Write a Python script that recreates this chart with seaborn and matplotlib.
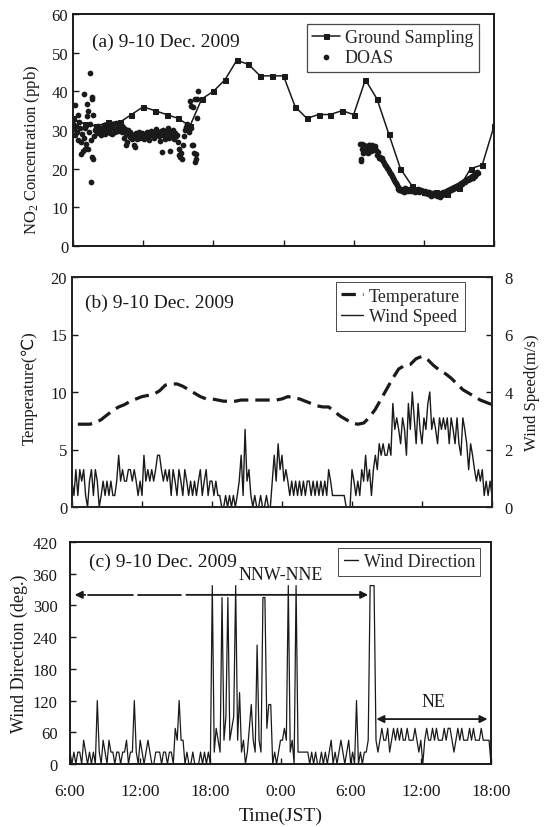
import numpy as np
import pandas as pd
import matplotlib
matplotlib.use("Agg")
import matplotlib.pyplot as plt
from matplotlib.lines import Line2D
import seaborn as sns

# ---------------- Data (hours since 06:00 JST, 9 Dec 2009) ----------------
gs_hours = list(range(0, 37))
gs_no2 = [33, 31.5, 31, 32, 32, 34, 36, 35, 34, 33, 31, 38, 40, 43, 48, 47, 44, 44,
          44, 36, 33, 34, 34, 35, 34, 43, 38, 29, 20, 15.5, 14, 14, 13.5, 15, 20, 21, 31]

# DOAS, 5-min values, segment 1 starts 06:00 day 1
doas1_start = 0.0
doas1_no2 = [
    31.5, 30.2, 28.6, 31.0, 29.4, 27.5, 32.0, 30.5, 26.8, 29.0, 24.5, 28.0,
    30.5, 26.5, 33.5, 25.0, 29.5, 31.5, 27.5, 38.5, 23.0, 34.0, 28.5, 30.0,
    30.5, 29.2, 31.0, 29.8, 30.2, 28.8, 30.6, 29.5, 31.2, 29.0, 30.4, 29.6,
    30.0, 31.0, 29.3, 30.5, 29.0, 31.5, 30.2, 29.4, 31.8, 30.6, 29.8, 31.2,
    30.4, 31.6, 29.6, 30.8, 28.0, 30.2, 29.0, 27.0, 30.0, 28.6, 29.4, 28.2,
    29.0, 27.8, 28.6, 26.2, 28.4, 29.2, 27.6, 28.8, 29.6, 28.0, 28.4, 29.2,
    28.2, 27.6, 29.0, 28.4, 29.6, 28.2, 27.4, 28.8, 29.8, 28.6, 29.4, 28.0,
    29.2, 30.2, 28.8, 29.6, 28.4, 27.2, 29.8, 28.6, 30.0, 29.2, 27.8, 29.6,
    28.8, 30.4, 28.0, 29.4, 24.5, 29.0, 28.4, 30.0, 27.6, 29.2, 28.4, 28.8,
    27.0, 25.0, 23.0, 24.0, 22.5, 26.0, 28.5, 30.0, 30.8, 31.5, 30.2, 29.5,
    31.0, 30.5, 26.0, 36.0, 24.0, 38.0, 22.5, 33.0]
# DOAS segment 2 starts 06:35 day 2
doas2_start = 24 + 7 / 12
doas2_no2 = [
    26.5, 22.5, 25.0, 24.0, 26.0,
    25.0, 24.2, 25.5, 24.0, 26.0, 25.2, 24.5, 26.2, 25.5, 24.8, 25.8, 24.8,
    23.5, 24.2, 22.8, 23.0, 22.4, 22.8, 22.0, 21.5, 21.0, 20.6, 20.2, 19.8,
    19.5, 19.0, 18.6, 18.0, 17.6, 17.0, 16.6, 16.2, 15.8, 15.2, 14.8, 14.6,
    14.4, 14.8, 14.2, 14.6, 14.0, 14.9, 14.3, 14.7, 14.1, 14.5, 14.8, 14.2,
    14.6, 14.2, 14.8, 14.0, 14.5, 14.3, 14.7, 13.9, 14.4, 14.6, 14.1, 14.3,
    13.8, 14.2, 13.6, 14.0, 13.4, 13.9, 13.5, 13.0, 13.7, 13.3, 13.8, 13.4,
    13.6, 13.2, 13.0, 13.8, 13.4, 12.8, 13.6, 13.2, 13.9, 13.5, 13.8, 14.1,
    14.0, 14.4, 14.2, 14.7, 14.5, 15.0, 14.8, 15.2, 15.0, 15.5, 15.3, 15.8,
    15.6, 16.0, 16.2, 16.0, 16.5, 16.8, 16.6, 17.0, 17.2, 17.0, 17.6, 17.4,
    17.8, 18.2, 17.6, 18.4, 18.0, 18.8, 18.5, 19.2, 19.0]
# scattered DOAS outliers
doas_extra_h = [0.15, 0.4, 0.69, 0.9, 1.03, 1.2, 1.3, 1.45, 1.55, 1.6, 1.74, 4.5, 5.3, 7.6,
                9.05, 10.0, 10.1, 10.3, 10.45, 10.5, 10.6, 10.7, 24.62, 24.7, 25.3]
doas_extra_no2 = [36.5, 34.0, 23.8, 39.3, 25.0, 36.7, 35.0, 44.7, 16.6, 38.0, 22.5, 26.0, 25.5,
                  24.2, 23.5, 37.5, 36.3, 26.0, 21.6, 23.8, 38.0, 40.0, 22.0, 26.5, 26.0]

# (b) temperature every 30 min from 06:30
temp_start = 0.5
temperature = [7.2, 7.2, 7.2, 7.3, 7.6, 8.0, 8.4, 8.7, 8.9, 9.2, 9.4, 9.6, 9.7, 9.8, 10.1, 10.6,
               10.7, 10.7, 10.5, 10.2, 9.9, 9.6, 9.4, 9.4, 9.3, 9.2, 9.2, 9.2, 9.3, 9.3, 9.3,
               9.3, 9.3, 9.3, 9.3, 9.4, 9.6, 9.5, 9.4, 9.2, 9.0, 8.8, 8.7, 8.7, 8.3, 7.9, 7.6,
               7.3, 7.2, 7.3, 7.8, 8.5, 9.4, 10.3, 11.2, 12.0, 12.3, 12.4, 12.9, 13.1, 12.8,
               12.3, 11.9, 11.6, 11.2, 10.7, 10.2, 9.9, 9.6, 9.3, 9.1, 8.9]

# wind speed (m/s) every 10 min from 06:00
wind_speed = [
    0.9, 0.4, 1.3, 0.4, 1.3, 0.9, 1.3, 0.4, 0.0, 0.9, 1.3, 0.4,
    1.3, 0.9, 0.0, 0.4, 0.9, 0.4, 0.9, 0.4, 0.9, 0.4, 0.4, 0.9,
    1.8, 0.9, 1.3, 0.9, 0.9, 1.3, 1.3, 0.9, 1.3, 0.9, 0.4, 0.9,
    0.4, 1.8, 0.9, 1.3, 0.9, 1.3, 0.9, 1.3, 1.8, 1.8, 1.3, 0.9,
    1.3, 0.9, 1.3, 0.4, 1.3, 0.9, 0.4, 1.3, 0.9, 0.4, 1.3, 0.9,
    0.4, 0.9, 0.4, 0.9, 0.4, 0.9, 1.3, 0.4, 0.9, 1.3, 0.4, 0.9,
    0.9, 0.4, 0.9, 0.4, 0.4, 0.0, 0.0, 0.4, 0.0, 0.4, 0.0, 0.4,
    0.0, 0.4, 0.9, 1.8, 0.4, 2.7, 0.9, 1.3, 0.4, 0.0, 0.4, 0.0,
    0.0, 0.4, 0.0, 0.0, 0.4, 0.0, 0.0, 0.9, 1.8, 0.9, 2.2, 1.3,
    1.8, 0.9, 1.3, 0.9, 0.4, 0.9, 0.4, 0.9, 0.4, 0.9, 0.4, 0.9,
    0.4, 0.9, 0.9, 0.4, 0.9, 0.4, 0.9, 0.4, 0.9, 0.4, 0.9, 0.4,
    1.3, 0.9, 0.4, 0.4, 0.4, 0.4, 0.4, 0.4, 0.4, 0.0, 0.0, 0.0,
    1.3, 0.9, 0.4, 0.9, 0.4, 1.3, 0.9, 1.8, 0.9, 1.3, 0.4, 1.3,
    1.8, 1.3, 2.2, 1.8, 2.2, 1.8, 1.8, 2.2, 1.8, 3.6, 2.7, 3.1,
    2.7, 2.2, 3.1, 2.7, 1.8, 3.6, 2.7, 4.0, 3.1, 2.2, 3.6, 2.7,
    2.2, 3.1, 2.7, 3.6, 4.0, 2.7, 3.1, 2.7, 2.2, 3.1, 2.7, 3.1,
    2.7, 3.1, 2.2, 3.1, 2.7, 2.2, 3.1, 2.2, 1.8, 3.1, 2.7, 2.2,
    1.3, 2.2, 1.8, 1.3, 0.9, 1.3, 0.9, 1.3, 0.4, 0.9, 0.4, 0.9, 0.4]

# wind direction (deg) every 10 min from 06:00
wind_dir = [
    22.5, 0, 22.5, 0, 22.5, 22.5, 0, 45, 22.5, 0, 22.5, 0,
    22.5, 0, 120, 22.5, 0, 45, 22.5, 0, 45, 22.5, 22.5, 0,
    22.5, 22.5, 0, 22.5, 22.5, 45, 0, 22.5, 22.5, 120, 22.5, 0,
    45, 22.5, 0, 22.5, 45, 22.5, 0, 0, 22.5, 22.5, 22.5, 0,
    22.5, 22.5, 0, 22.5, 22.5, 0, 67.5, 45, 120, 45, 45, 0,
    22.5, 0, 0, 22.5, 0, 0, 0, 22.5, 0, 22.5, 0, 22.5,
    0, 337.5, 22.5, 67.5, 45, 22.5, 315, 45, 90, 315, 45, 67.5,
    90, 337.5, 45, 135, 22.5, 45, 0, 22.5, 67.5, 112.5, 45, 22.5,
    225, 45, 22.5, 315, 315, 67.5, 112.5, 112.5, 0, 22.5, 0, 22.5,
    45, 45, 67.5, 45, 337.5, 22.5, 45, 0, 337.5, 22.5, 22.5, 22.5,
    22.5, 22.5, 22.5, 0, 22.5, 0, 22.5, 0, 0, 22.5, 0, 22.5,
    0, 22.5, 45, 0, 22.5, 0, 22.5, 45, 22.5, 0, 22.5, 45,
    0, 22.5, 0, 120, 0, 22.5, 0, 22.5, 22.5, 45, 337.5, 337.5,
    337.5, 45, 22.5, 45, 67.5, 45, 45, 67.5, 22.5, 45, 67.5, 45,
    67.5, 45, 67.5, 45, 45, 67.5, 45, 45, 45, 67.5, 45, 22.5,
    45, 0, 45, 67.5, 45, 45, 67.5, 45, 67.5, 45, 45, 45,
    67.5, 45, 67.5, 67.5, 45, 22.5, 45, 67.5, 45, 67.5, 45, 45,
    45, 67.5, 45, 67.5, 45, 45, 45, 67.5, 45, 45, 45, 45, 0]

time_ticks = [0, 6, 12, 18, 24, 30, 36]
time_labels = ["6:00", "12:00", "18:00", "0:00", "6:00", "12:00", "18:00"]

# annotation readings (panel c)
nnw_span = [0.4, 25.5]
nnw_y = 320
nne_text_pos = [18.05, 358]
ne_span = [26.2, 35.7]
ne_y = 85
ne_text_pos = [31.1, 118]

# ---------------- Build tables ----------------
df_gs = pd.DataFrame({"h": gs_hours, "no2": gs_no2})
d1 = pd.DataFrame({"h": doas1_start + np.arange(len(doas1_no2)) / 12, "no2": doas1_no2})
d2 = pd.DataFrame({"h": doas2_start + np.arange(len(doas2_no2)) / 12, "no2": doas2_no2})
d3 = pd.DataFrame({"h": doas_extra_h, "no2": doas_extra_no2})
df_doas = pd.concat([d1, d2, d3], ignore_index=True)
df_t = pd.DataFrame({"h": temp_start + np.arange(len(temperature)) / 2, "T": temperature})
df_ws = pd.DataFrame({"h": np.arange(len(wind_speed)) / 6, "ws": wind_speed})
df_wd = pd.DataFrame({"h": np.arange(len(wind_dir)) / 6, "wd": wind_dir})

# ---------------- Style ----------------
sns.set_theme(style="ticks")
plt.rcParams["font.family"] = ["Liberation Serif", "DejaVu Sans"]
plt.rcParams["mathtext.fontset"] = "custom"
plt.rcParams["mathtext.rm"] = "Liberation Serif"
plt.rcParams["mathtext.it"] = "Liberation Serif:italic"
plt.rcParams["axes.linewidth"] = 1.4
YTICK_FS = 12
XTICK_FS = 12.5
LAB_FS = 12.5
TITLE_FS = 14
LEG_FS = 13

W, H = 544, 828
fig = plt.figure(figsize=(W / 100, H / 100), dpi=100)


def box(l, t, r, b):
    return [l / W, 1 - b / H, (r - l) / W, (b - t) / H]


ax1 = fig.add_axes(box(73, 15, 494, 247))
ax2 = fig.add_axes(box(72, 278, 492, 508))
ax3 = fig.add_axes(box(70, 543, 491, 765))


def style_axis(ax):
    for s in ax.spines.values():
        s.set_visible(True)
        s.set_linewidth(1.4)
        s.set_color("k")
    ax.tick_params(direction="in", length=4, width=1, colors="k",
                   labelsize=YTICK_FS, labelcolor="k")
    ax.set_xlim(0, 36)
    ax.set_xticks(time_ticks)


# ---------------- Panel (a) ----------------
sns.lineplot(data=df_gs, x="h", y="no2", ax=ax1, color="k", lw=1.1, marker="s",
             markersize=3.6, markeredgecolor="k", label="Ground Sampling")
sns.scatterplot(data=df_doas, x="h", y="no2", ax=ax1, color="k", s=17, linewidth=0,
                label="DOAS")
style_axis(ax1)
ax1.set_ylim(0, 60)
ax1.set_yticks(range(0, 61, 10))
ax1.set_xticklabels([])
ax1.set_xlabel("")
ax1.set_ylabel(r"NO$_2$ Concentration (ppb)", fontsize=LAB_FS - 0.5, color="k", labelpad=7)
ax1.yaxis.label.set_y(0.42)
ax1.text(0.045, 0.884, "(a) 9-10 Dec. 2009", transform=ax1.transAxes, fontsize=TITLE_FS,
         va="center", ha="left", color="k")
leg = ax1.legend(loc="upper right", bbox_to_anchor=(0.964, 0.957), frameon=True,
                 fancybox=False, edgecolor="k", fontsize=LEG_FS, handlelength=1.5,
                 handletextpad=0.3, borderpad=0.3, labelspacing=0.15, borderaxespad=0,
                 markerscale=1.0)
leg.get_frame().set_linewidth(0.9)

# ---------------- Panel (b) ----------------
sns.lineplot(data=df_t, x="h", y="T", ax=ax2, color="k", lw=2.3)
ax2.lines[-1].set_dashes([4.5, 2.2])
style_axis(ax2)
ax2.set_ylim(0, 20)
ax2.set_yticks(range(0, 21, 5))
ax2.set_xticklabels([])
ax2.set_xlabel("")
ax2.set_ylabel("Temperature(℃)", fontsize=LAB_FS - 0.5, color="k", labelpad=9)
ax2.yaxis.label.set_y(0.52)
ax2r = ax2.twinx()
sns.lineplot(data=df_ws, x="h", y="ws", ax=ax2r, color="k", lw=1.0)
ax2r.set_ylim(0, 8)
ax2r.set_yticks(range(0, 9, 2))
ax2r.tick_params(direction="in", length=4, width=1, colors="k", labelsize=YTICK_FS,
                 labelcolor="k", pad=9)
ax2r.set_ylabel("Wind Speed(m/s)", fontsize=LAB_FS - 0.5, color="k", labelpad=8)
ax2r.set_xlim(0, 36)
ax2.text(0.031, 0.89, "(b) 9-10 Dec. 2009", transform=ax2.transAxes, fontsize=TITLE_FS,
         va="center", ha="left", color="k")
h_temp = Line2D([], [], color="k", lw=2.3, dashes=[4.5, 2.2])
h_ws = Line2D([], [], color="k", lw=1.0)
leg2 = ax2r.legend([h_temp, h_ws], ["Temperature", "Wind Speed"], loc="upper right",
                   bbox_to_anchor=(0.936, 0.977), frameon=True, fancybox=False,
                   edgecolor="k", fontsize=LEG_FS, handlelength=1.2, handletextpad=0.3,
                   borderpad=0.3, labelspacing=0.2, borderaxespad=0)
leg2.get_frame().set_linewidth(0.7)

# ---------------- Panel (c) ----------------
sns.lineplot(data=df_wd, x="h", y="wd", ax=ax3, color="k", lw=0.9)
style_axis(ax3)
ax3.set_ylim(0, 420)
ax3.set_yticks(range(0, 421, 60))
ax3.set_xticklabels(time_labels)
ax3.tick_params(axis="x", pad=14, labelsize=XTICK_FS)
ax3.tick_params(axis="y", pad=9)
ax3.set_xlabel("Time(JST)", fontsize=14, color="k", labelpad=5)
ax3.set_ylabel("Wind Direction (deg.)", fontsize=LAB_FS + 0.5, color="k", labelpad=3)
ax3.text(0.044, 0.915, "(c) 9-10 Dec. 2009", transform=ax3.transAxes, fontsize=TITLE_FS,
         va="center", ha="left", color="k")
aprops = dict(arrowstyle="-|>", color="k", lw=1.3, mutation_scale=11, shrinkA=0, shrinkB=0)
ax3.annotate("", xy=(nnw_span[0], nnw_y), xytext=(1.3, nnw_y), arrowprops=aprops)
ax3.plot([1.55, 5.4, np.nan, 5.8, 9.5], [nnw_y] * 5, color="k", lw=1.3)
ax3.annotate("", xy=(nnw_span[1], nnw_y), xytext=(9.95, nnw_y), arrowprops=aprops)
ax3.text(nne_text_pos[0], nne_text_pos[1], "NNW-NNE", fontsize=LEG_FS, ha="center",
         va="center", color="k")
ax3.annotate("", xy=(ne_span[1], ne_y), xytext=(ne_span[0], ne_y),
             arrowprops=dict(arrowstyle="<|-|>", color="k", lw=1.3, mutation_scale=11,
                             shrinkA=0, shrinkB=0))
ax3.text(ne_text_pos[0], ne_text_pos[1], "NE", fontsize=LEG_FS, ha="center", va="center",
         color="k")
leg3 = ax3.legend([Line2D([], [], color="k", lw=1.0)], ["Wind Direction"],
                  loc="upper right", bbox_to_anchor=(0.975, 0.973), frameon=True,
                  fancybox=False, edgecolor="k", fontsize=LEG_FS, handlelength=0.8,
                  handletextpad=0.3, borderpad=0.3, borderaxespad=0)
leg3.get_frame().set_linewidth(0.7)

fig.savefig("out.png", dpi=100)
